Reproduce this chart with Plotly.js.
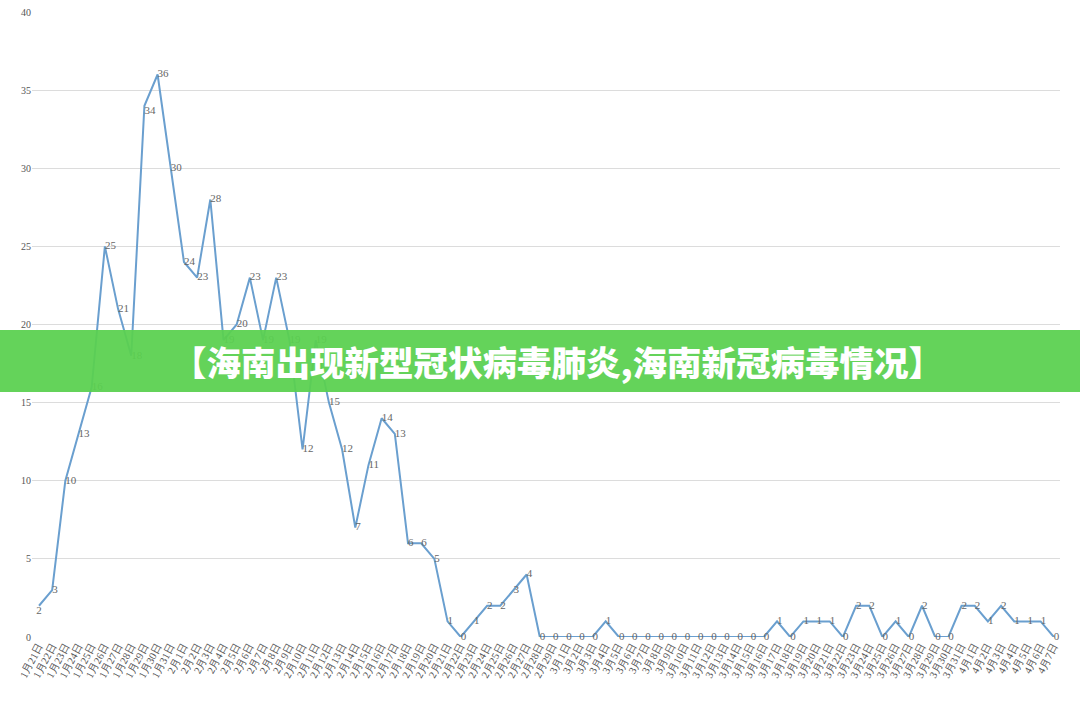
<!DOCTYPE html>
<html>
<head>
<meta charset="utf-8">
<script src="https://cdn.plot.ly/plotly-3.0.1.min.js"></script>
<style>html,body{margin:0;padding:0;background:#fff;}#chart{width:1080px;height:723px;}</style>
</head>
<body>
<div id="chart"></div>
<script>
const dates = [
 "1月21日","1月22日","1月23日","1月24日","1月25日","1月26日","1月27日","1月28日","1月29日","1月30日","1月31日",
 "2月1日","2月2日","2月3日","2月4日","2月5日","2月6日","2月7日","2月8日","2月9日","2月10日",
 "2月11日","2月12日","2月13日","2月14日","2月15日","2月16日","2月17日","2月18日","2月19日","2月20日",
 "2月21日","2月22日","2月23日","2月24日","2月25日","2月26日","2月27日","2月28日","2月29日",
 "3月1日","3月2日","3月3日","3月4日","3月5日","3月6日","3月7日","3月8日","3月9日","3月10日",
 "3月11日","3月12日","3月13日","3月14日","3月15日","3月16日","3月17日","3月18日","3月19日","3月20日",
 "3月21日","3月22日","3月23日","3月24日","3月25日","3月26日","3月27日","3月28日","3月29日","3月30日","3月31日",
 "4月1日","4月2日","4月3日","4月4日","4月5日","4月6日","4月7日"
];
const cases = [
 2,3,10,13,16,25,21,18,34,36,30,
 24,23,28,19,20,23,19,23,19,12,
 19,15,12,7,11,14,13,6,6,5,
 1,0,1,2,2,3,4,0,0,
 0,0,0,1,0,0,0,0,0,0,
 0,0,0,0,0,0,1,0,1,1,
 1,0,2,2,0,1,0,2,0,0,2,
 2,1,2,1,1,1,0
];
const yTicks = [0,5,10,15,20,25,30,35,40];
const bannerText = "【海南出现新型冠状病毒肺炎,海南新冠病毒情况】";

const textPos = cases.map((v,i)=> i===0 ? "bottom center" : (i===8 ? "bottom right" : "middle right"));

const trace = {
  x: dates, y: cases, type: "scatter", mode: "lines+text",
  text: cases.map(String), textposition: textPos,
  textfont: {family: "Liberation Serif", size: 11, color: "#666"},
  line: {color: "#6a9fcf", width: 2},
  cliponaxis: false, hoverinfo: "skip"
};

const layout = {
  width: 1080, height: 723,
  margin: {l: 32, r: 20, t: 12, b: 86},
  paper_bgcolor: "#fff", plot_bgcolor: "#fff",
  showlegend: false,
  xaxis: {
    type: "category", range: [-0.53, 77.47],
    tickangle: -62, tickfont: {family: "Liberation Serif", size: 10.5, color: "#555"},
    showgrid: false, zeroline: false, showline: false, ticks: "", automargin: false
  },
  yaxis: {
    range: [0, 40], tickvals: yTicks, ticktext: yTicks.map(String),
    tickfont: {family: "Liberation Serif", size: 10, color: "#555"},
    gridcolor: "#dcdcdc", gridwidth: 1, zeroline: false, showline: false,
    ticks: "", automargin: false, fixedrange: true
  },
  shapes: [{
    type: "rect", xref: "paper", yref: "paper", layer: "above",
    x0: -0.05, x1: 1.05, y0: (723-86-392)/625, y1: (723-86-330)/625,
    fillcolor: "rgba(90,208,80,0.94)", line: {width: 0}
  }],
  annotations: [{
    xref: "paper", yref: "paper", x: (557-32)/1028, y: (723-86-361)/625,
    text: bannerText, showarrow: false, xanchor: "center", yanchor: "middle",
    font: {family: "Noto Sans CJK SC", size: 34.5, color: "#fff", weight: 900}
  }]
};

Plotly.newPlot("chart", [trace], layout, {displayModeBar: false, staticPlot: true});
</script>
</body>
</html>
